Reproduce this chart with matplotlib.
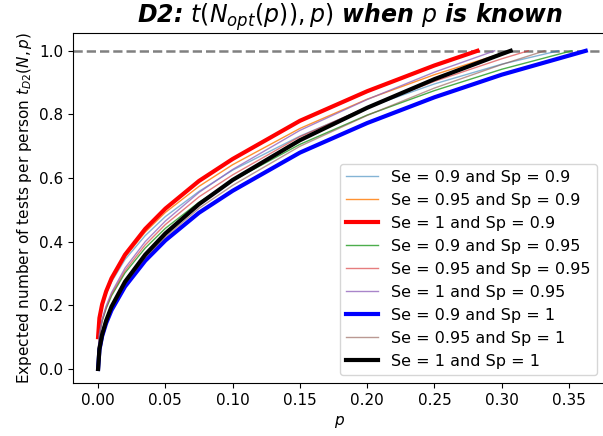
import matplotlib
matplotlib.use("Agg")
import matplotlib.pyplot as plt

# shared p grid
p_grid = [0, 0.001, 0.003, 0.006, 0.01, 0.02, 0.035, 0.05, 0.075, 0.1, 0.15, 0.2, 0.25, 0.3]

labels = ["Se = 0.9 and Sp = 0.9", "Se = 0.95 and Sp = 0.9", "Se = 1 and Sp = 0.9",
          "Se = 0.9 and Sp = 0.95", "Se = 0.95 and Sp = 0.95", "Se = 1 and Sp = 0.95",
          "Se = 0.9 and Sp = 1", "Se = 0.95 and Sp = 1", "Se = 1 and Sp = 1"]

t_se09_sp09 = [0.1, 0.156, 0.197, 0.236, 0.274, 0.344, 0.419, 0.479, 0.558, 0.625, 0.732, 0.822, 0.896, 0.958]
t_se095_sp09 = [0.1, 0.158, 0.200, 0.240, 0.280, 0.352, 0.430, 0.492, 0.574, 0.642, 0.756, 0.848, 0.925, 0.992]
t_se1_sp09 = [0.1, 0.160, 0.203, 0.244, 0.285, 0.359, 0.440, 0.504, 0.591, 0.660, 0.780, 0.873, 0.954]
t_se09_sp095 = [0.05, 0.108, 0.150, 0.190, 0.230, 0.302, 0.380, 0.442, 0.524, 0.592, 0.706, 0.798, 0.875, 0.942]
t_se095_sp095 = [0.05, 0.110, 0.153, 0.194, 0.235, 0.309, 0.390, 0.454, 0.541, 0.610, 0.730, 0.823, 0.904, 0.975]
t_se1_sp095 = [0.05, 0.111, 0.155, 0.198, 0.240, 0.317, 0.400, 0.465, 0.555, 0.627, 0.750, 0.847, 0.933]
t_se09_sp1 = [0.0, 0.060, 0.103, 0.144, 0.185, 0.259, 0.340, 0.404, 0.491, 0.560, 0.680, 0.773, 0.854, 0.925]
t_se095_sp1 = [0.0, 0.061, 0.105, 0.148, 0.190, 0.267, 0.350, 0.415, 0.505, 0.577, 0.700, 0.797, 0.883, 0.957]
t_se1_sp1 = [0.0, 0.063, 0.108, 0.152, 0.196, 0.274, 0.359, 0.426, 0.518, 0.594, 0.719, 0.821, 0.911, 0.990]

# p at which each curve reaches 1 (end point)
p_end = [0.342, 0.3066, 0.2819, 0.3519, 0.3197, 0.2947, 0.3624, 0.3319, 0.3066]
t_end = 1.0

series = [t_se09_sp09, t_se095_sp09, t_se1_sp09, t_se09_sp095, t_se095_sp095,
          t_se1_sp095, t_se09_sp1, t_se095_sp1, t_se1_sp1]

styles = [
    dict(color="C0", lw=1.0, alpha=0.55),
    dict(color="C1", lw=1.0, alpha=0.85),
    dict(color="red", lw=3.0),
    dict(color="C2", lw=1.0, alpha=0.85),
    dict(color="C3", lw=1.0, alpha=0.6),
    dict(color="C4", lw=1.0, alpha=0.8),
    dict(color="blue", lw=3.0),
    dict(color="C5", lw=1.0, alpha=0.6),
    dict(color="black", lw=3.0),
]

fig = plt.figure(figsize=(6.03, 4.36), dpi=100)
ax = fig.add_axes([0.1216, 0.1209, 0.8817, 0.8027])

ax.axhline(1.0, color="gray", ls="--", lw=1.8)
for vals, pe, lab, st in zip(series, p_end, labels, styles):
    xs = p_grid[:len(vals)] + [pe]
    ys = vals + [t_end]
    ax.plot(xs, ys, label=lab, **st)

ax.set_xlim(-0.0184, 0.3767)
ax.set_ylim(-0.045, 1.055)
ax.set_xticks([0, 0.05, 0.1, 0.15, 0.2, 0.25, 0.3, 0.35])
ax.set_yticks([0, 0.2, 0.4, 0.6, 0.8, 1.0])
ax.tick_params(labelsize=11)
ax.set_xlabel("$p$", fontsize=11)
ax.set_ylabel("Expected number of tests per person $t_{D2}(N, p)$", fontsize=11)
ax.set_title(r"D2: $t(N_{opt}(p)), p)$ when $p$ is known", fontsize=17,
             fontweight="bold", style="italic", pad=5, x=0.52)
ax.legend(loc="lower right", fontsize=11.5)

fig.savefig("out.png", dpi=100)
